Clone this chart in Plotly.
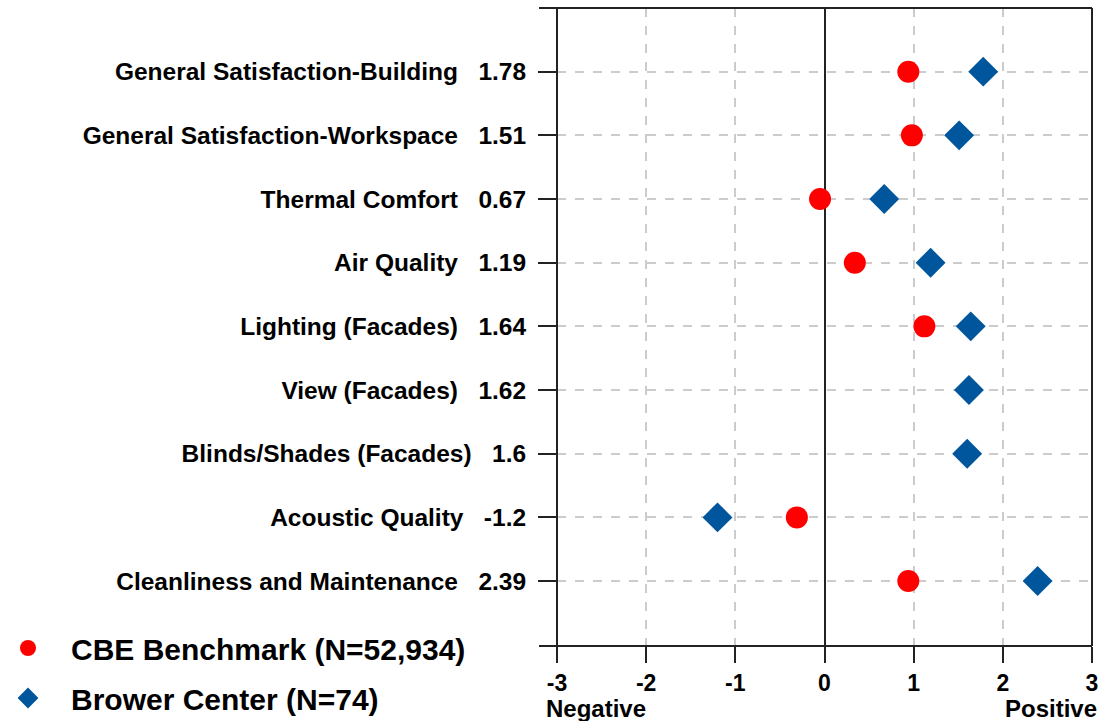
import plotly.graph_objects as go

categories = [
    "General Satisfaction-Building",
    "General Satisfaction-Workspace",
    "Thermal Comfort",
    "Air Quality",
    "Lighting (Facades)",
    "View (Facades)",
    "Blinds/Shades (Facades)",
    "Acoustic Quality",
    "Cleanliness and Maintenance",
]
brower_values = [1.78, 1.51, 0.67, 1.19, 1.64, 1.62, 1.6, -1.2, 2.39]
brower_labels = ["1.78", "1.51", "0.67", "1.19", "1.64", "1.62", "1.6", "-1.2", "2.39"]
cbe_values = [0.94, 0.98, -0.05, 0.34, 1.12, None, None, -0.31, 0.94]
x_ticks = [-3, -2, -1, 0, 1, 2, 3]

FONT = "Liberation Sans, Arial, sans-serif"
rows = list(range(len(categories)))
SP = "\u00a0\u00a0\u00a0"
ticktext = [f"{c}{SP}{v}" for c, v in zip(categories, brower_labels)]

fig = go.Figure()
fig.add_trace(go.Scatter(
    x=cbe_values, y=rows, mode="markers", name="CBE Benchmark (N=52,934)",
    marker=dict(symbol="circle", size=22, color="#FF0000"),
    legendgroup="a",
))
fig.add_trace(go.Scatter(
    x=brower_values, y=rows, mode="markers", name="Brower Center (N=74)",
    marker=dict(symbol="diamond", size=23, color="#00569C"),
    legendgroup="b",
))

W, H = 1104, 721
L, R, T, B = 557, 12, 8, 75
plot_w = W - L - R
plot_h = H - T - B
bottom_px = H - B
ext = -18 / plot_w
line = dict(color="#222222", width=2)
shapes = [
    dict(type="line", xref="paper", yref="paper", x0=ext, x1=1, y0=1, y1=1, line=line),
    dict(type="line", xref="paper", yref="paper", x0=ext, x1=1, y0=0, y1=0, line=line),
    dict(type="line", xref="paper", yref="paper", x0=0, x1=0, y0=0, y1=1, line=line),
    dict(type="line", xref="paper", yref="paper", x0=1, x1=1, y0=0, y1=1, line=line),
]

fig.update_layout(
    width=W, height=H,
    margin=dict(l=L, r=R, t=T, b=B, autoexpand=False),
    plot_bgcolor="white", paper_bgcolor="white",
    font=dict(family=FONT, color="#000000", weight="bold"),
    shapes=shapes,
    showlegend=True,
    legend=dict(
        x=(-15 - L) / plot_w, xanchor="left",
        y=(bottom_px - 622) / plot_h, yanchor="top",
        font=dict(size=30, family=FONT, color="#000000", weight="bold"),
        itemwidth=76, tracegroupgap=8,
        bgcolor="rgba(0,0,0,0)",
    ),
    annotations=[
        dict(text="Negative", x=-3, xref="x", y=(bottom_px - 709) / plot_h, yref="paper", xanchor="left",
             yanchor="middle", showarrow=False, font=dict(size=24, family=FONT, weight="bold"), xshift=-13),
        dict(text="Positive", x=3, xref="x", y=(bottom_px - 709) / plot_h, yref="paper", xanchor="right",
             yanchor="middle", showarrow=False, font=dict(size=24, family=FONT, weight="bold"), xshift=7),
    ],
)

fig.update_xaxes(
    range=[-3, 3], tickvals=x_ticks, ticktext=[str(t) for t in x_ticks],
    showgrid=True, gridcolor="#cccccc", griddash="dash", gridwidth=1.5,
    zeroline=True, zerolinecolor="#222222", zerolinewidth=1.5,
    ticks="outside", ticklen=16, tickwidth=2, tickcolor="#222222",
    tickfont=dict(size=23, family=FONT, weight="bold"),
    showline=False,
)
fig.update_yaxes(
    range=[9.02, -1], tickvals=rows, ticktext=ticktext,
    showgrid=True, gridcolor="#cccccc", griddash="dash", gridwidth=1.5,
    zeroline=False,
    ticks="outside", ticklen=18, tickwidth=2, tickcolor="#222222",
    tickfont=dict(size=24.5, family=FONT, weight="bold"),
    ticklabelstandoff=7,
    showline=False,
)

fig.write_html("out.html", config={"displayModeBar": False},
               post_script="document.body.style.margin='0';document.body.style.padding='0';")
